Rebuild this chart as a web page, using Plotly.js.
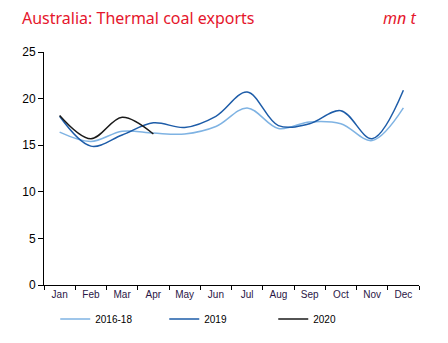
<!DOCTYPE html>
<html>
<head>
<meta charset="utf-8">
<script src="https://cdn.plot.ly/plotly-3.0.1.min.js"></script>
<style>html,body{margin:0;padding:0;background:#fff;}#chart{width:448px;height:343px;}</style>
</head>
<body>
<div id="chart"></div>
<script>
const months = ["Jan","Feb","Mar","Apr","May","Jun","Jul","Aug","Sep","Oct","Nov","Dec"];
const avg2016_18 = [16.4, 15.4, 16.5, 16.3, 16.2, 17.0, 19.0, 16.8, 17.5, 17.3, 15.5, 19.0];
const y2019 = [18.1, 14.9, 16.1, 17.4, 16.9, 18.1, 20.7, 17.1, 17.3, 18.7, 15.7, 20.9];
const y2020 = [18.2, 15.7, 18.0, 16.2];

const traces = [
  {x: months, y: avg2016_18, name: "2016-18", type: "scatter", mode: "lines",
   line: {color: "#7fb3e3", width: 1.5, shape: "spline", smoothing: 1}},
  {x: months, y: y2019, name: "2019", type: "scatter", mode: "lines",
   line: {color: "#1d5ca8", width: 1.5, shape: "spline", smoothing: 1}},
  {x: months.slice(0, y2020.length), y: y2020, name: "2020", type: "scatter", mode: "lines",
   line: {color: "#1a1a1a", width: 1.5, shape: "spline", smoothing: 1}}
];

const layout = {
  width: 448, height: 343,
  margin: {l: 44, r: 29, t: 52, b: 58, autoexpand: false},
  paper_bgcolor: "#fff", plot_bgcolor: "#fff",
  font: {family: "Liberation Sans, Arial, sans-serif", color: "#000"},
  showlegend: true,
  legend: {orientation: "h", x: 0.03, xanchor: "left", y: -0.146, yanchor: "middle",
    font: {size: 10, color: "#000"}, itemwidth: 30, entrywidth: 64, traceorder: "normal",
    bgcolor: "rgba(0,0,0,0)"},
  xaxis: {type: "category", showgrid: false, showline: true, linecolor: "#000", linewidth: 1,
    ticks: "outside", tickson: "boundaries", ticklen: 4, tickcolor: "#000",
    tickfont: {size: 10, color: "#2a1646"}, range: [-0.5, 11.5], zeroline: false, fixedrange: true},
  yaxis: {range: [0, 25], dtick: 5, showgrid: false, showline: true, linecolor: "#000", linewidth: 1,
    ticks: "outside", ticklen: 5, tickcolor: "#000", tickfont: {size: 12, color: "#000"},
    zeroline: false, fixedrange: true},
  annotations: [
    {xref: "paper", yref: "paper", x: -0.064, y: 1.146, xanchor: "left", yanchor: "middle",
     text: "Australia: Thermal coal exports", showarrow: false,
     font: {family: "Noto Sans, Open Sans, sans-serif", size: 16, color: "#e5162c"}},
    {xref: "paper", yref: "paper", x: 0.997, y: 1.146, xanchor: "right", yanchor: "middle",
     text: "<i>mn t</i>", showarrow: false,
     font: {family: "Noto Sans, Open Sans, sans-serif", size: 16, color: "#e5162c"}}
  ]
};

Plotly.newPlot("chart", traces, layout, {displayModeBar: false, staticPlot: true});
</script>
</body>
</html>
